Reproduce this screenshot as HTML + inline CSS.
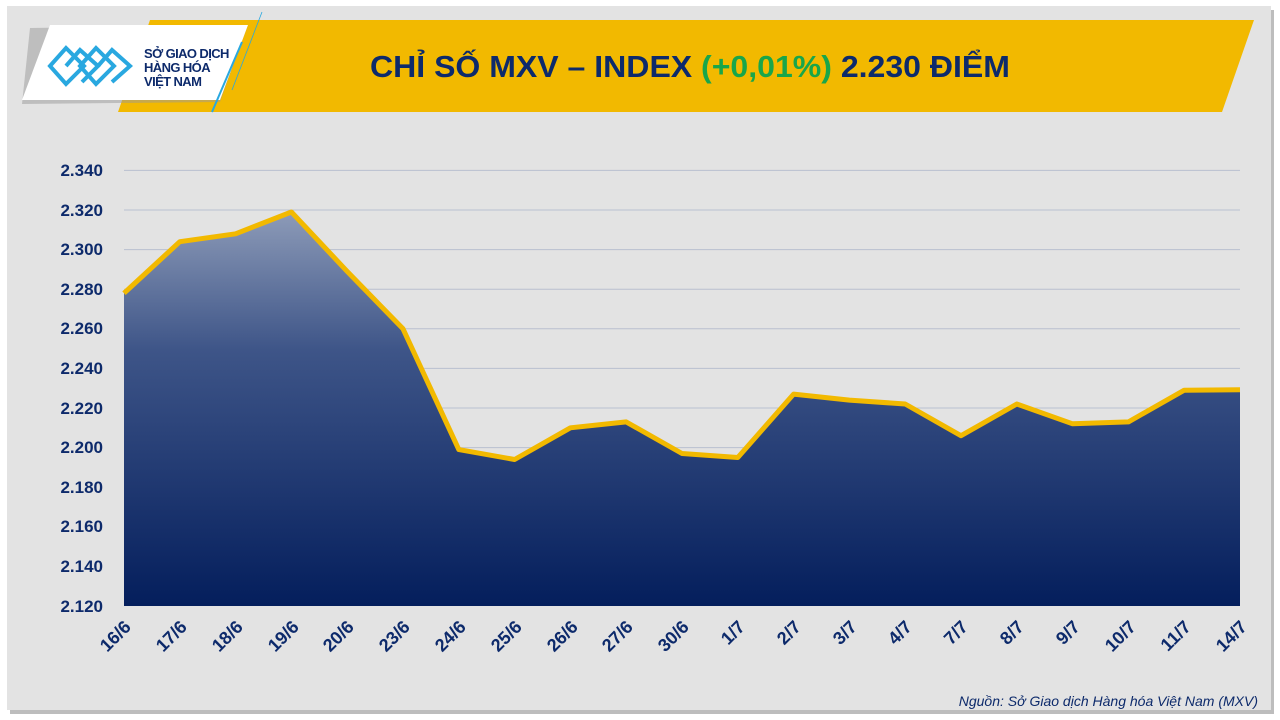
<!DOCTYPE html>
<html><head><meta charset="utf-8"><style>
body{margin:0;width:1280px;height:720px;background:#fff;overflow:hidden;font-family:"Liberation Sans",sans-serif}
</style></head><body>
<svg width="1280" height="720" xmlns="http://www.w3.org/2000/svg" style="position:absolute;left:0;top:0">
<defs>
<linearGradient id="fill" x1="0" y1="0" x2="0" y2="1">
<stop offset="0" stop-color="#8d9bb8"/><stop offset="0.35" stop-color="#3e5588"/><stop offset="1" stop-color="#041e5c"/>
</linearGradient>
</defs>
<rect x="0" y="0" width="1280" height="720" fill="#fff"/>
<rect x="10" y="10" width="1264" height="704" fill="#bdbdbd"/>
<rect x="7" y="6" width="1264" height="704" fill="#e3e3e3"/>
<polygon points="150,20 1254,20 1222,112 118,112" fill="#f2b900"/>
<polygon points="30,28 248,25 220,102 22,104" fill="#9a9a9a" opacity="0.5"/>
<polygon points="50,25 248,25 220,100 22,100" fill="#fff"/>
<line x1="242" y1="42" x2="212" y2="112" stroke="#29a8e0" stroke-width="2"/>
<line x1="262" y1="12" x2="232" y2="90" stroke="#29a8e0" stroke-width="0.8"/>
<g fill="none" stroke="#29a8e0" stroke-width="4">
<path d="M50,66 L66,48 L84,66 L66,84 Z"/><path d="M66,66 L80,50 L98,66 L82,82"/><path d="M80,66 L96,48 L114,66 L96,84 Z"/><path d="M98,66 L112,50 L130,66 L112,82"/>
</g>
<text x="144" y="58" font-size="13" font-weight="bold" fill="#0d2a6b" letter-spacing="-0.6">SỞ GIAO DỊCH</text>
<text x="144" y="72" font-size="13" font-weight="bold" fill="#0d2a6b" letter-spacing="-0.6">HÀNG HÓA</text>
<text x="144" y="86" font-size="13" font-weight="bold" fill="#0d2a6b" letter-spacing="-0.6">VIỆT NAM</text>
<text x="690" y="77" text-anchor="middle" font-size="31" font-weight="bold" fill="#0d2a6b" textLength="640" lengthAdjust="spacingAndGlyphs">CHỈ SỐ MXV – INDEX <tspan fill="#19a64a">(+0,01%)</tspan> 2.230 ĐIỂM</text>
<g stroke="#b9c0d0" stroke-width="1">
<line x1="124" y1="170.4" x2="1240" y2="170.4"/><line x1="124" y1="210" x2="1240" y2="210"/><line x1="124" y1="249.6" x2="1240" y2="249.6"/><line x1="124" y1="289.2" x2="1240" y2="289.2"/><line x1="124" y1="328.8" x2="1240" y2="328.8"/><line x1="124" y1="368.4" x2="1240" y2="368.4"/><line x1="124" y1="408" x2="1240" y2="408"/><line x1="124" y1="447.6" x2="1240" y2="447.6"/><line x1="124" y1="487.2" x2="1240" y2="487.2"/><line x1="124" y1="526.8" x2="1240" y2="526.8"/><line x1="124" y1="566.4" x2="1240" y2="566.4"/>
</g>
<g font-size="17" font-weight="bold" fill="#0d2a6b" text-anchor="end">
<text x="103" y="176">2.340</text><text x="103" y="216">2.320</text><text x="103" y="255">2.300</text><text x="103" y="295">2.280</text><text x="103" y="334">2.260</text><text x="103" y="374">2.240</text><text x="103" y="414">2.220</text><text x="103" y="453">2.200</text><text x="103" y="493">2.180</text><text x="103" y="532">2.160</text><text x="103" y="572">2.140</text><text x="103" y="612">2.120</text>
</g>
<polygon fill="url(#fill)" points="124,606 124,293.2 179.8,241.7 235.6,233.8 291.4,212 347.2,271.4 403,328.8 458.8,449.6 514.6,459.5 570.4,427.8 626.2,421.9 682,453.5 737.8,457.5 793.6,394.1 849.4,400.1 905.2,404 961,435.7 1016.8,404 1072.6,423.8 1128.4,421.9 1184.2,390.2 1240,389.8 1240,606"/>
<polyline fill="none" stroke="#f2b900" stroke-width="5" stroke-linejoin="round" points="124,293.2 179.8,241.7 235.6,233.8 291.4,212 347.2,271.4 403,328.8 458.8,449.6 514.6,459.5 570.4,427.8 626.2,421.9 682,453.5 737.8,457.5 793.6,394.1 849.4,400.1 905.2,404 961,435.7 1016.8,404 1072.6,423.8 1128.4,421.9 1184.2,390.2 1240,389.8"/>
<g font-size="18" font-weight="bold" fill="#0d2a6b" text-anchor="end">
<text transform="translate(132,628) rotate(-45)">16/6</text>
<text transform="translate(188,628) rotate(-45)">17/6</text>
<text transform="translate(244,628) rotate(-45)">18/6</text>
<text transform="translate(300,628) rotate(-45)">19/6</text>
<text transform="translate(355,628) rotate(-45)">20/6</text>
<text transform="translate(411,628) rotate(-45)">23/6</text>
<text transform="translate(467,628) rotate(-45)">24/6</text>
<text transform="translate(523,628) rotate(-45)">25/6</text>
<text transform="translate(579,628) rotate(-45)">26/6</text>
<text transform="translate(634,628) rotate(-45)">27/6</text>
<text transform="translate(690,628) rotate(-45)">30/6</text>
<text transform="translate(746,628) rotate(-45)">1/7</text>
<text transform="translate(802,628) rotate(-45)">2/7</text>
<text transform="translate(858,628) rotate(-45)">3/7</text>
<text transform="translate(913,628) rotate(-45)">4/7</text>
<text transform="translate(969,628) rotate(-45)">7/7</text>
<text transform="translate(1025,628) rotate(-45)">8/7</text>
<text transform="translate(1081,628) rotate(-45)">9/7</text>
<text transform="translate(1137,628) rotate(-45)">10/7</text>
<text transform="translate(1192,628) rotate(-45)">11/7</text>
<text transform="translate(1248,628) rotate(-45)">14/7</text>
</g>
<text x="1258" y="706" text-anchor="end" font-size="14" font-style="italic" fill="#0d2a6b">Nguồn: Sở Giao dịch Hàng hóa Việt Nam (MXV)</text>
</svg>
</body></html>
